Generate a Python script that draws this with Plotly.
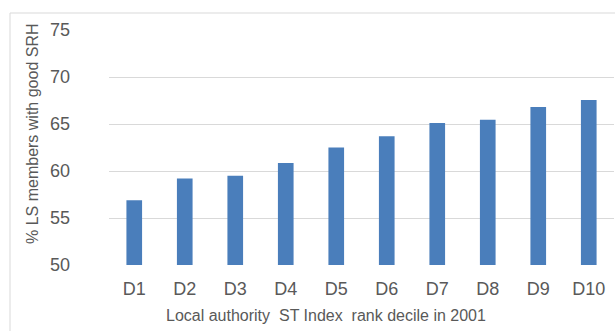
import plotly.graph_objects as go

categories = ["D1", "D2", "D3", "D4", "D5", "D6", "D7", "D8", "D9", "D10"]
values = [56.9, 59.2, 59.5, 60.85, 62.5, 63.7, 65.1, 65.45, 66.8, 67.55]
y_ticks = [50, 55, 60, 65, 70, 75]

x_title = "Local authority  ST Index  rank decile in 2001"
y_title = "% LS members with good SRH"

W, H = 615, 331
L, R, T, B = 109, 1, 30, 66
pw, ph = W - L - R, H - T - B

def px_x(p):
    return (p - L) / pw

def px_y(p):
    return (H - B - p) / ph

FONT = "Liberation Sans, Arial, sans-serif"
GRAY = "#595959"

fig = go.Figure(go.Bar(x=categories, y=values, marker=dict(color="#4a7ebb", line=dict(width=0))))

fig.update_layout(
    width=W, height=H,
    margin=dict(l=L, r=R, t=T, b=B, pad=0, autoexpand=False),
    paper_bgcolor="white", plot_bgcolor="white",
    bargap=0.69,
    showlegend=False,
    font=dict(family=FONT, color=GRAY, size=18),
    xaxis=dict(
        showgrid=False, zeroline=False, showline=False,
        tickfont=dict(size=18, color=GRAY),
        ticks="", ticklabelstandoff=11,
    ),
    yaxis=dict(
        range=[50, 75], tickvals=y_ticks,
        showgrid=True, gridcolor="#d9d9d9", gridwidth=1,
        zeroline=False, showline=False,
        tickfont=dict(size=18, color=GRAY),
        ticks="", ticklabelstandoff=38,
    ),
    shapes=[dict(
        type="rect", xref="paper", yref="paper",
        x0=px_x(10), x1=1.05, y0=px_y(340), y1=px_y(13),
        line=dict(color="#d9d9d9", width=1), fillcolor="rgba(0,0,0,0)", layer="below",
    )],
    annotations=[
        dict(text=x_title, xref="paper", yref="paper", x=px_x(326), y=px_y(315),
             xanchor="center", yanchor="middle", showarrow=False,
             font=dict(size=16, color=GRAY, family=FONT)),
        dict(text=y_title, xref="paper", yref="paper", x=px_x(32), y=px_y(134),
             xanchor="center", yanchor="middle", showarrow=False, textangle=-90,
             font=dict(size=16, color=GRAY, family=FONT)),
    ],
)

fig.write_html("out.html")
